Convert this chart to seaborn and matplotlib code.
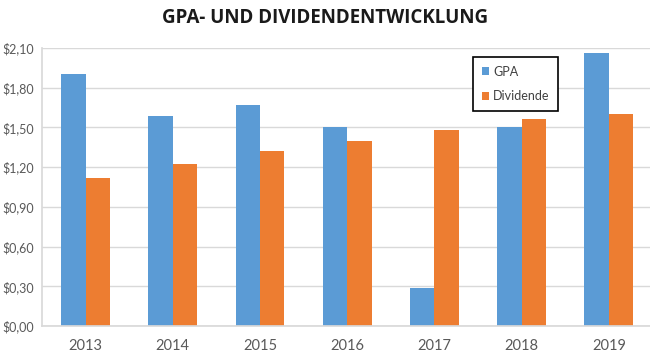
import matplotlib
matplotlib.use("Agg")
import matplotlib.pyplot as plt
import seaborn as sns
import pandas as pd
from matplotlib.patches import Patch

years = ["2013", "2014", "2015", "2016", "2017", "2018", "2019"]
gpa = [1.90, 1.59, 1.67, 1.50, 0.29, 1.50, 2.06]
dividende = [1.12, 1.22, 1.32, 1.40, 1.48, 1.56, 1.60]
series_names = ["GPA", "Dividende"]
yticks = [0.0, 0.3, 0.6, 0.9, 1.2, 1.5, 1.8, 2.1]
title = "GPA- UND DIVIDENDENTWICKLUNG"

colors = ["#5B9BD5", "#ED7D31"]

df = pd.DataFrame({
    "Jahr": years * 2,
    "Wert": gpa + dividende,
    "Serie": [series_names[0]] * len(years) + [series_names[1]] * len(years),
})

sns.set_theme(style="white")
plt.rcParams["font.family"] = ["Lato", "DejaVu Sans"]

fig = plt.figure(figsize=(6.5, 3.55), dpi=100)
ax = fig.add_axes([42 / 650, 1 - 326 / 355, (650 - 42) / 650, (326 - 48) / 355])

sns.barplot(data=df, x="Jahr", y="Wert", hue="Serie", palette=colors,
            width=0.56, gap=0, ax=ax, legend=False, saturation=1,
            linewidth=0, edgecolor="none")

ax.set_ylim(0, 2.1)
x_right = (650 - 85) / 87.3
ax.set_xlim(-0.5, x_right)
ax.set_yticks(yticks)
ax.set_yticklabels([("$%.2f" % v).replace(".", ",") for v in yticks],
                   color="#595959", fontsize=9)
ax.set_xticks(range(len(years)))
ax.set_xticklabels(years, color="#595959", fontsize=10.5)
ax.set_xlabel("")
ax.set_ylabel("")
ax.yaxis.grid(True, color="#D9D9D9", linewidth=1)
ax.set_axisbelow(True)
for s in ["top", "right"]:
    ax.spines[s].set_visible(False)
ax.spines["left"].set_color("#D9D9D9")
ax.spines["bottom"].set_color("#D9D9D9")
ax.tick_params(axis="both", length=0, pad=6)
ax.tick_params(axis="x", pad=9)

fig.text(0.5, 1 - 18 / 355, title, ha="center", va="center",
         fontsize=13.5, fontweight="bold", color="#1a1a1a",
         family=["Open Sans", "DejaVu Sans"])

handles = [Patch(facecolor=c, edgecolor="none") for c in colors]
leg = fig.legend(handles, series_names, loc="upper left",
                 bbox_to_anchor=(473 / 650, 1 - 57 / 355),
                 frameon=True, fancybox=False, edgecolor="black",
                 framealpha=1,
                 handlelength=0.6, handleheight=0.6, handletextpad=0.3,
                 labelspacing=1.0, borderpad=0.7, fontsize=9,
                 borderaxespad=0)
leg.get_frame().set_linewidth(1.2)
for t in leg.get_texts():
    t.set_color("#404040")

fig.savefig("out.png", dpi=100)
